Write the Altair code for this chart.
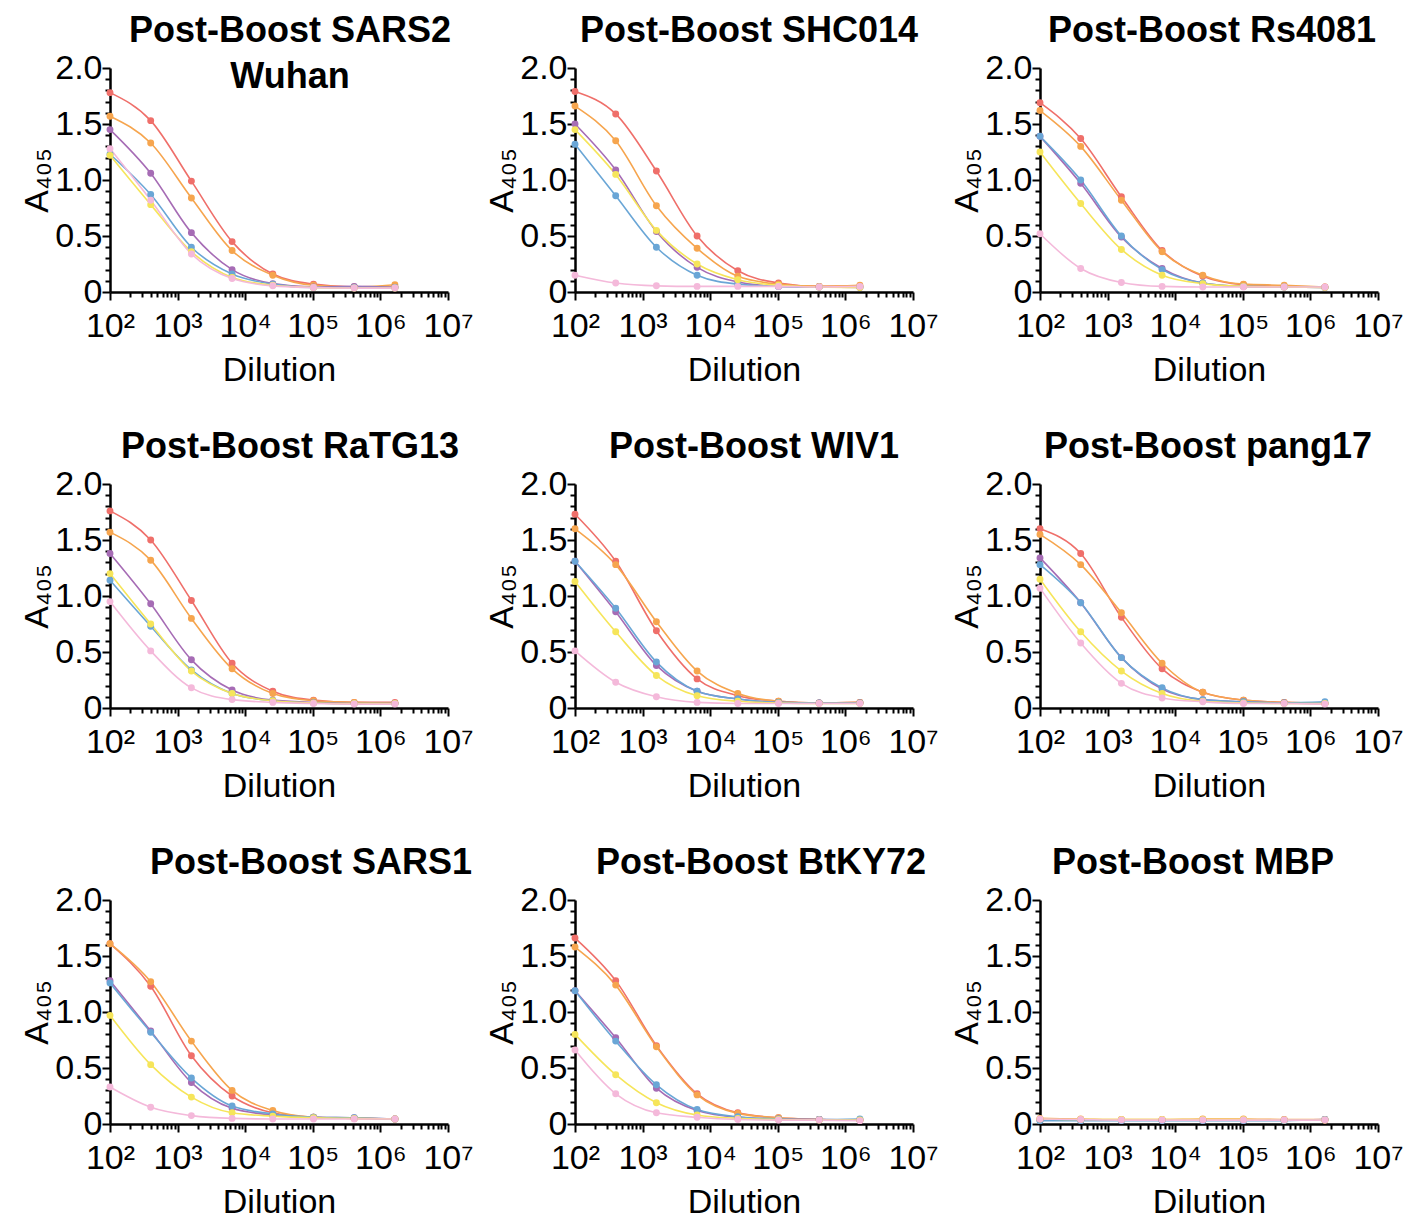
import altair as alt
import pandas as pd

# ---------------- data ----------------
dilutions = [100, 400, 1600, 6400, 25600, 102400, 409600, 1638400]
groups = ["Group 1", "Group 2", "Group 3", "Group 4", "Group 5", "Group 6"]
group_colors = ["#EF6F6A", "#F6A54E", "#A66CB5", "#6AA6D6", "#F6E55A", "#F4B9DA"]

panel_titles = [
    ["Post-Boost SARS2", "Wuhan"],
    "Post-Boost SHC014",
    "Post-Boost Rs4081",
    "Post-Boost RaTG13",
    "Post-Boost WIV1",
    "Post-Boost pang17",
    "Post-Boost SARS1",
    "Post-Boost BtKY72",
    "Post-Boost MBP",
]

# rows: red, orange, purple, blue, yellow, pink
sars2_wuhan = [
    [1.78, 1.53, 0.99, 0.45, 0.16, 0.07, 0.045, 0.045],
    [1.57, 1.33, 0.84, 0.37, 0.15, 0.06, 0.045, 0.065],
    [1.45, 1.06, 0.53, 0.20, 0.075, 0.045, 0.05, 0.04],
    [1.23, 0.87, 0.40, 0.16, 0.07, 0.04, 0.04, 0.04],
    [1.22, 0.78, 0.36, 0.13, 0.06, 0.04, 0.035, 0.035],
    [1.28, 0.82, 0.34, 0.12, 0.055, 0.04, 0.035, 0.035],
]
shc014 = [
    [1.79, 1.59, 1.08, 0.50, 0.19, 0.08, 0.05, 0.05],
    [1.66, 1.35, 0.77, 0.39, 0.14, 0.07, 0.05, 0.06],
    [1.50, 1.09, 0.54, 0.22, 0.09, 0.05, 0.045, 0.04],
    [1.32, 0.86, 0.40, 0.15, 0.07, 0.05, 0.045, 0.045],
    [1.45, 1.05, 0.55, 0.25, 0.11, 0.06, 0.045, 0.04],
    [0.15, 0.08, 0.055, 0.05, 0.05, 0.05, 0.045, 0.05],
]
rs4081 = [
    [1.69, 1.37, 0.85, 0.37, 0.14, 0.065, 0.05, 0.045],
    [1.62, 1.30, 0.82, 0.36, 0.15, 0.07, 0.06, 0.045],
    [1.39, 0.97, 0.49, 0.21, 0.08, 0.05, 0.045, 0.04],
    [1.39, 1.00, 0.50, 0.20, 0.08, 0.05, 0.045, 0.04],
    [1.25, 0.79, 0.38, 0.15, 0.075, 0.05, 0.045, 0.04],
    [0.52, 0.21, 0.085, 0.05, 0.045, 0.045, 0.045, 0.045],
]
ratg13 = [
    [1.76, 1.50, 0.96, 0.40, 0.15, 0.07, 0.05, 0.05],
    [1.57, 1.32, 0.80, 0.35, 0.13, 0.065, 0.05, 0.04],
    [1.38, 0.93, 0.43, 0.16, 0.07, 0.05, 0.04, 0.04],
    [1.14, 0.73, 0.34, 0.13, 0.065, 0.045, 0.04, 0.04],
    [1.20, 0.75, 0.33, 0.13, 0.065, 0.045, 0.04, 0.04],
    [0.95, 0.51, 0.18, 0.075, 0.05, 0.04, 0.035, 0.035],
]
wiv1 = [
    [1.73, 1.31, 0.69, 0.26, 0.11, 0.06, 0.045, 0.05],
    [1.60, 1.28, 0.77, 0.33, 0.13, 0.06, 0.045, 0.05],
    [1.31, 0.86, 0.38, 0.15, 0.08, 0.05, 0.045, 0.045],
    [1.31, 0.89, 0.41, 0.15, 0.08, 0.05, 0.045, 0.045],
    [1.13, 0.68, 0.29, 0.11, 0.06, 0.045, 0.04, 0.04],
    [0.51, 0.23, 0.10, 0.05, 0.04, 0.04, 0.04, 0.04],
]
pang17 = [
    [1.60, 1.38, 0.81, 0.35, 0.14, 0.07, 0.05, 0.04],
    [1.55, 1.28, 0.85, 0.40, 0.14, 0.07, 0.05, 0.04],
    [1.34, 0.94, 0.45, 0.17, 0.075, 0.055, 0.045, 0.04],
    [1.28, 0.94, 0.45, 0.18, 0.075, 0.055, 0.045, 0.055],
    [1.15, 0.68, 0.33, 0.13, 0.06, 0.045, 0.04, 0.04],
    [1.07, 0.58, 0.22, 0.09, 0.055, 0.04, 0.04, 0.035],
]
sars1 = [
    [1.61, 1.23, 0.61, 0.25, 0.10, 0.06, 0.05, 0.045],
    [1.61, 1.27, 0.74, 0.30, 0.12, 0.06, 0.05, 0.045],
    [1.28, 0.83, 0.37, 0.14, 0.08, 0.06, 0.055, 0.045],
    [1.26, 0.82, 0.41, 0.16, 0.09, 0.06, 0.055, 0.045],
    [0.97, 0.53, 0.24, 0.10, 0.07, 0.055, 0.05, 0.045],
    [0.33, 0.15, 0.075, 0.05, 0.045, 0.045, 0.045, 0.045],
]
btky72 = [
    [1.66, 1.28, 0.70, 0.27, 0.10, 0.055, 0.04, 0.035],
    [1.58, 1.24, 0.69, 0.26, 0.095, 0.055, 0.04, 0.035],
    [1.19, 0.77, 0.32, 0.12, 0.06, 0.045, 0.04, 0.035],
    [1.19, 0.74, 0.35, 0.13, 0.065, 0.045, 0.04, 0.045],
    [0.80, 0.44, 0.19, 0.08, 0.05, 0.04, 0.035, 0.035],
    [0.66, 0.27, 0.10, 0.06, 0.04, 0.035, 0.035, 0.03],
]
mbp = [
    [0.04, 0.035, 0.035, 0.035, 0.035, 0.035, 0.035, 0.035],
    [0.05, 0.045, 0.04, 0.04, 0.045, 0.045, 0.04, 0.04],
    [0.035, 0.035, 0.035, 0.035, 0.035, 0.035, 0.035, 0.04],
    [0.03, 0.03, 0.03, 0.03, 0.03, 0.03, 0.03, 0.04],
    [0.045, 0.04, 0.04, 0.04, 0.04, 0.04, 0.035, 0.035],
    [0.045, 0.04, 0.035, 0.035, 0.035, 0.035, 0.035, 0.035],
]
panel_values = [sars2_wuhan, shc014, rs4081, ratg13, wiv1, pang17, sars1, btky72, mbp]

# axis tick positions (major + minor)
x_tick_values = [k * 10 ** e for e in range(2, 7) for k in range(1, 10)] + [10 ** 7]
y_tick_values = [round(i * 0.1, 1) for i in range(21)]

# ---------------- styling ----------------
FONT = "Liberation Sans"
PLOT_W, PLOT_H = 338, 224
LINE_H = 46
TITLE_OFFSET = 1
# horizontal nudges of each panel title (styling only)
title_dx = [11, 5, 3, 11, 10, -1, 32, 17, -16]

x_major = "abs(log(datum.value)/LN10 - round(log(datum.value)/LN10)) < 0.001"
x_label = ("(" + x_major + ") ? '10' + ['⁰','¹','²','³','⁴','⁵','⁶','⁷']"
           "[round(log(datum.value)/LN10)] : ''")
y_major = "abs(datum.value*2 - round(datum.value*2)) < 0.001"
y_label = ("(" + y_major + ") ? (datum.value == 0 ? '0' : format(datum.value, '.1f')) : ''")

x_axis = alt.Axis(
    values=x_tick_values, labelExpr=x_label, grid=False,
    tickSize={"condition": {"test": x_major, "value": 8}, "value": 5},
    tickWidth=2, tickColor="black", domainColor="black", domainWidth=2.5,
    labelFont=FONT, labelFontSize=34, labelColor="black", labelPadding=9,
    labelFlush=False, labelOverlap=False, labelBound=False,
    titleFont=FONT, titleFontSize=34, titleFontWeight="normal", titleColor="black",
    titlePadding=10,
)
y_axis = alt.Axis(
    values=y_tick_values, labelExpr=y_label, grid=False,
    tickSize={"condition": {"test": y_major, "value": 8}, "value": 5},
    tickWidth=2, tickColor="black", domainColor="black", domainWidth=2.5,
    labelFont=FONT, labelFontSize=34, labelColor="black", labelPadding=0,
    labelFlush=False, labelOverlap=False,
    titleFont=FONT, titleFontSize=34, titleFontWeight="normal", titleColor="black",
    titlePadding=0,
)

panels = []
for i, (title, values) in enumerate(zip(panel_titles, panel_values)):
    rows = []
    for g, series in zip(groups, values):
        for d, v in zip(dilutions, series):
            rows.append({"dilution": d, "a405": v, "group": g})
    df = pd.DataFrame(rows)
    base = alt.Chart(df).encode(
        x=alt.X("dilution:Q", title="Dilution",
                scale=alt.Scale(type="log", domain=[100, 10 ** 7], nice=False),
                axis=x_axis),
        y=alt.Y("a405:Q", title="A₄₀₅",
                scale=alt.Scale(domain=[0, 2], nice=False, zero=True),
                axis=y_axis),
        color=alt.Color("group:N", legend=None,
                        scale=alt.Scale(domain=groups, range=group_colors)),
    )
    line = base.mark_line(interpolate="monotone", strokeWidth=1.6)
    pts = base.mark_circle(size=48, opacity=1)
    n_lines = len(title) if isinstance(title, list) else 1
    panel = alt.layer(line, pts).properties(
        width=PLOT_W, height=PLOT_H,
        title=alt.Title(title, font=FONT, fontSize=36, fontWeight="bold",
                        color="black", anchor="middle", frame="group",
                        baseline="top", offset=TITLE_OFFSET - LINE_H * (n_lines - 1),
                        lineHeight=LINE_H, dx=title_dx[i]),
    )
    panels.append(panel)

chart = alt.concat(
    *panels, columns=3, spacing={"row": 192, "column": 127}, bounds="flush"
).properties(
    padding={"left": 20, "top": 13, "right": 10, "bottom": 5},
    background="white",
).configure_view(strokeWidth=0)

chart.save("out.html", embed_options={"renderer": "svg", "actions": False})
